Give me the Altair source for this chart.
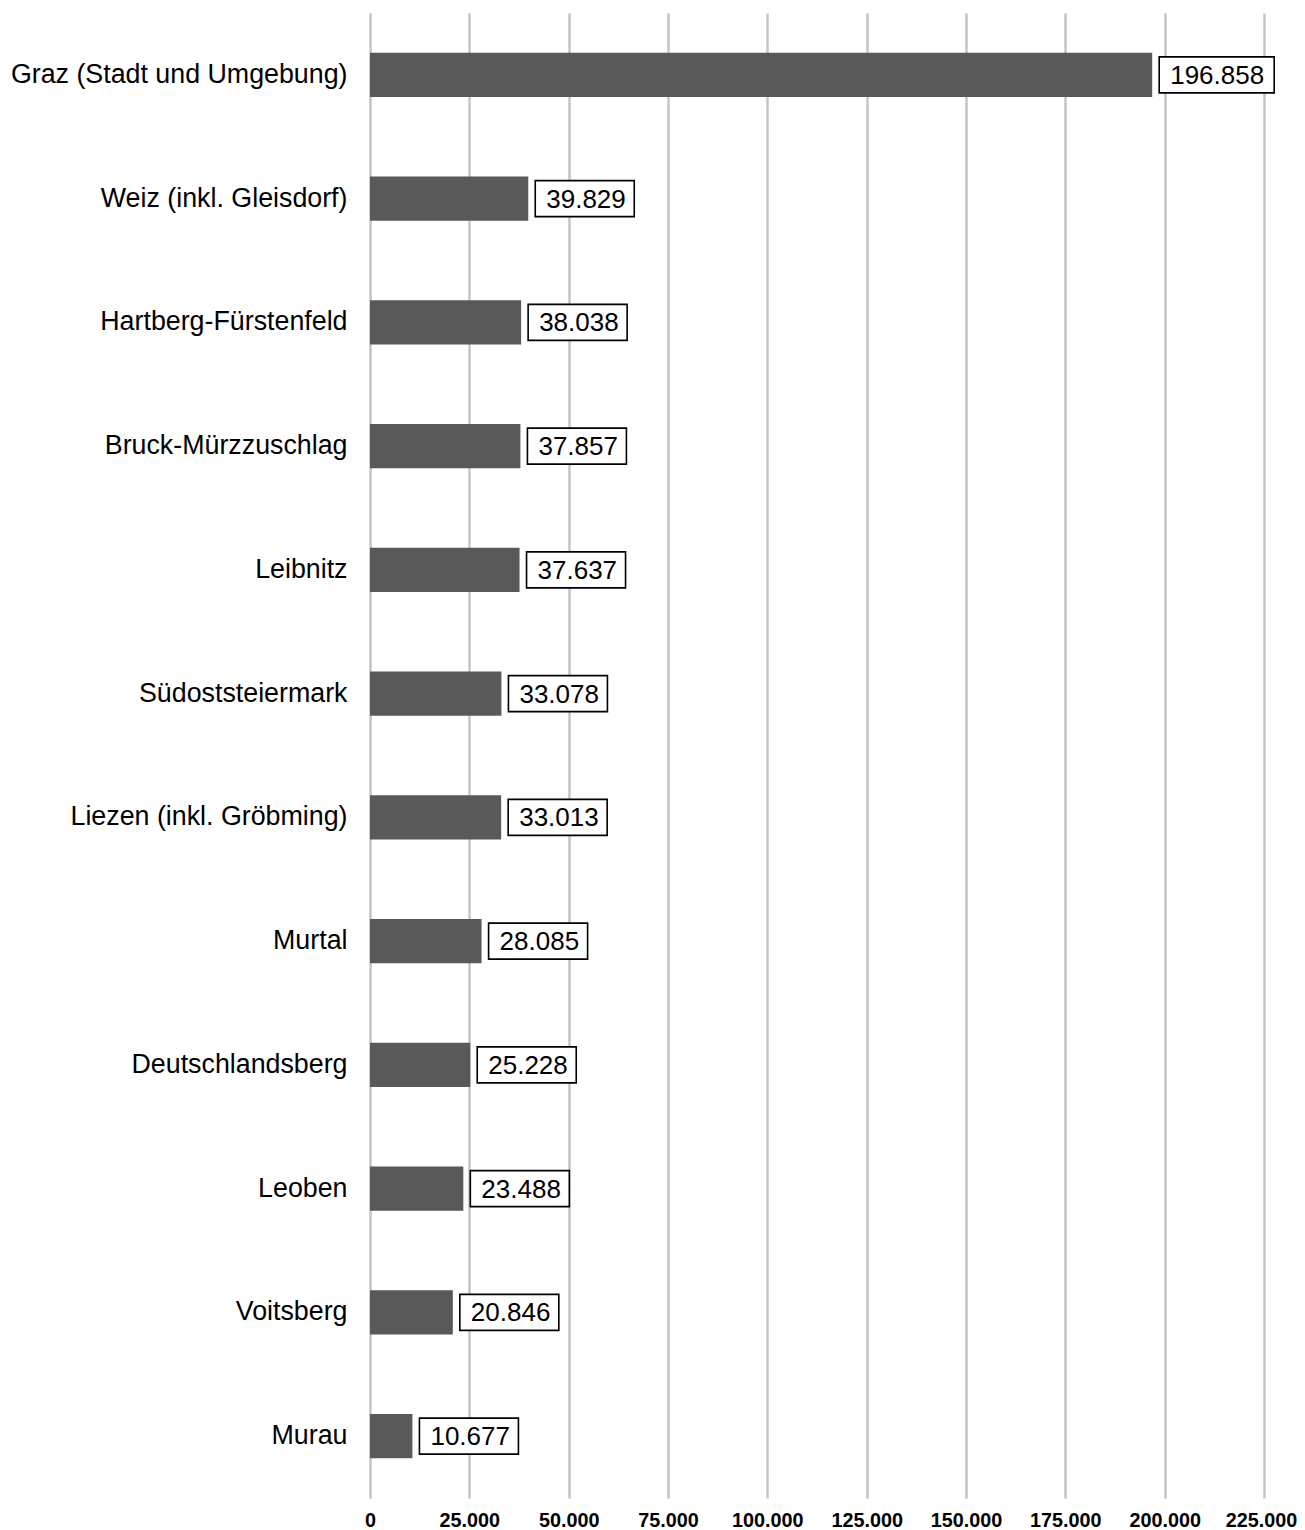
import altair as alt
import pandas as pd

regions = [
    "Graz (Stadt und Umgebung)",
    "Weiz (inkl. Gleisdorf)",
    "Hartberg-Fürstenfeld",
    "Bruck-Mürzzuschlag",
    "Leibnitz",
    "Südoststeiermark",
    "Liezen (inkl. Gröbming)",
    "Murtal",
    "Deutschlandsberg",
    "Leoben",
    "Voitsberg",
    "Murau",
]
values = [196858, 39829, 38038, 37857, 37637, 33078, 33013, 28085, 25228, 23488, 20846, 10677]
ticks = [0, 25000, 50000, 75000, 100000, 125000, 150000, 175000, 200000, 225000]

df = pd.DataFrame({"region": regions, "value": values})
df["label"] = [f"{v:,}".replace(",", ".") for v in values]
df["nchar"] = df["label"].str.len()

FONT = "Liberation Sans"

y_enc = alt.Y(
    "region:N",
    sort=regions,
    title=None,
    scale=alt.Scale(paddingInner=0.644, paddingOuter=0.322),
    axis=alt.Axis(
        ticks=False,
        domain=False,
        labelFont=FONT,
        labelFontSize=26.8,
        labelColor="#000000",
        labelPadding=23,
        labelLimit=0,
    ),
)
x_enc = alt.X(
    "value:Q",
    title=None,
    scale=alt.Scale(domain=[0, 225000], nice=False),
    axis=alt.Axis(
        values=ticks,
        labelExpr="replace(format(datum.value, ',d'), ',', '.')",
        ticks=False,
        domain=False,
        grid=True,
        gridColor="#c4c4c4",
        gridWidth=2.5,
        labelFont=FONT,
        labelFontSize=19.8,
        labelFontWeight="bold",
        labelColor="#000000",
        labelPadding=12,
        labelOverlap=False,
        labelFlush=False,
        labelOffset={"condition": {"test": "datum.value >= 225000", "value": -3}, "value": 0},
    ),
)

base = alt.Chart(df)

bars = base.mark_bar(color="#595959").encode(x=x_enc, y=y_enc)

box6 = base.transform_filter("datum.nchar == 6").mark_bar(
    fill="white", stroke="black", strokeWidth=1.6, size=36, xOffset=7, x2Offset=106
).encode(x="value:Q", x2="value:Q", y=alt.Y("region:N", sort=regions))

box7 = base.transform_filter("datum.nchar == 7").mark_bar(
    fill="white", stroke="black", strokeWidth=1.6, size=36, xOffset=7, x2Offset=122
).encode(x="value:Q", x2="value:Q", y=alt.Y("region:N", sort=regions))

text = base.mark_text(
    align="left", baseline="middle", dx=18, dy=1, font=FONT, fontSize=26, color="#000000"
).encode(x="value:Q", y=alt.Y("region:N", sort=regions), text="label:N")

chart = (
    alt.layer(bars, box6, box7, text)
    .properties(
        width=894,
        height=1485,
        padding={"left": 362, "top": 5, "right": 33, "bottom": 40},
        autosize=alt.AutoSizeParams(type="none"),
        background="white",
    )
    .configure_view(stroke=None)
)

chart.save("out.html", embed_options={"renderer": "svg", "actions": False})
